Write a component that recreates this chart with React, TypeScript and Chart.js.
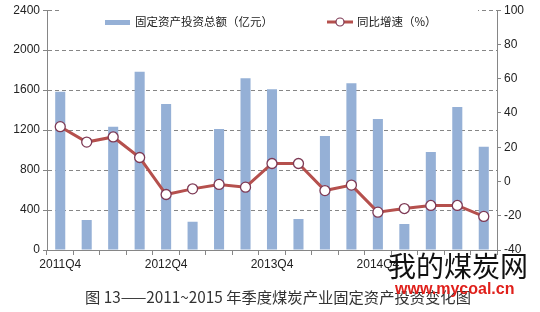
import React, { useEffect, useRef } from "react";
import { Chart, registerables } from "chart.js";

Chart.register(...registerables);

const categories = [
  "2011Q4", "2012Q1", "2012Q2", "2012Q3", "2012Q4", "2013Q1", "2013Q2", "2013Q3", "2013Q4",
  "2014Q1", "2014Q2", "2014Q3", "2014Q4", "2015Q1", "2015Q2", "2015Q3", "2015Q4",
];
const investment = [1583, 300, 1233, 1783, 1460, 283, 1210, 1720, 1610, 310, 1140, 1670, 1310, 260, 980, 1430, 1033];
const growth = [32, 23, 26, 14, -7.6, -4.3, -1.7, -3.3, 10.5, 10.5, -5.3, -2.1, -17.9, -15.8, -14, -14, -20.4];
const leftTicks = [0, 400, 800, 1200, 1600, 2000, 2400];
const rightTicks = [-40, -20, 0, 20, 40, 60, 80, 100];
const barLabel = "固定资产投资总额（亿元）";
const lineLabel = "同比增速（%）";
const caption = "图 13——2011~2015 年季度煤炭产业固定资产投资变化图";

const BAR_COLOR = "#95B0D6";
const LINE_COLOR = "#B5504D";
const POINT_BORDER = "#7E3A55";
const AXIS_COLOR = "#868686";
const TEXT_COLOR = "#222";

const legendPlugin = {
  id: "customLegend",
  afterDraw(chart: any) {
    const ctx = chart.ctx;
    ctx.save();
    ctx.fillStyle = "#fff";
    ctx.fillRect(60, 4, 418, 12);
    ctx.fillStyle = BAR_COLOR;
    ctx.fillRect(105, 20, 25, 5);
    ctx.font = '11.5px "Noto Sans CJK SC"';
    ctx.fillStyle = TEXT_COLOR;
    ctx.textBaseline = "middle";
    ctx.textAlign = "left";
    ctx.fillText(barLabel, 135, 22);
    ctx.strokeStyle = LINE_COLOR;
    ctx.lineWidth = 3;
    ctx.beginPath();
    ctx.moveTo(327, 22);
    ctx.lineTo(353, 22);
    ctx.stroke();
    ctx.beginPath();
    ctx.arc(340, 22, 4, 0, Math.PI * 2);
    ctx.fillStyle = "#fff";
    ctx.fill();
    ctx.lineWidth = 1.2;
    ctx.strokeStyle = POINT_BORDER;
    ctx.stroke();
    ctx.fillStyle = TEXT_COLOR;
    ctx.fillText(lineLabel, 357, 22);
    ctx.restore();
  },
};

export default function App() {
  const ref = useRef<HTMLCanvasElement>(null);
  useEffect(() => {
    if (!ref.current) return;
    Chart.defaults.font.family = '"Liberation Sans", Arial, sans-serif';
    const chart = new Chart(ref.current, {
      type: "bar",
      data: {
        labels: categories,
        datasets: [
          {
            type: "line",
            label: lineLabel,
            data: growth,
            yAxisID: "y1",
            borderColor: LINE_COLOR,
            borderWidth: 3,
            pointRadius: 5,
            pointBackgroundColor: "#fff",
            pointBorderColor: POINT_BORDER,
            pointBorderWidth: 1.3,
            order: 0,
          } as any,
          {
            type: "bar",
            label: barLabel,
            data: investment,
            yAxisID: "y",
            backgroundColor: BAR_COLOR,
            categoryPercentage: 1,
            barPercentage: 0.38,
            order: 1,
          },
        ],
      },
      options: {
        responsive: false,
        animation: false,
        layout: { padding: { top: 10, left: 0, right: 0, bottom: 0 } },
        plugins: { legend: { display: false }, tooltip: { enabled: false } },
        scales: {
          x: {
            offset: true,
            grid: { offset: true, drawOnChartArea: false, tickLength: 5, color: AXIS_COLOR },
            border: { color: AXIS_COLOR },
            ticks: {
              autoSkip: false,
              maxRotation: 0,
              padding: 2,
              color: TEXT_COLOR,
              font: { size: 12 },
              callback: (_v: any, i: number) => (i % 4 === 0 && i < 16 ? categories[i] : ""),
            },
            afterFit: (s: any) => { s.height = 62; },
          },
          y: {
            position: "left",
            min: leftTicks[0],
            max: leftTicks[leftTicks.length - 1],
            afterBuildTicks: (s: any) => { s.ticks = leftTicks.map((v) => ({ value: v })); },
            grid: { color: AXIS_COLOR, tickLength: 4 },
            border: { color: AXIS_COLOR, dash: [4, 3] },
            ticks: { color: TEXT_COLOR, font: { size: 12 }, padding: 3, callback: (v: any) => String(v) },
            afterFit: (s: any) => { s.width = 47; },
          },
          y1: {
            position: "right",
            min: rightTicks[0],
            max: rightTicks[rightTicks.length - 1],
            afterBuildTicks: (s: any) => { s.ticks = rightTicks.map((v) => ({ value: v })); },
            grid: { drawOnChartArea: false, color: AXIS_COLOR, tickLength: 4 },
            border: { color: AXIS_COLOR },
            ticks: { color: TEXT_COLOR, font: { size: 12 }, padding: 3, callback: (v: any) => String(v) },
            afterFit: (s: any) => { s.width = 43; },
          },
        },
      },
      plugins: [legendPlugin],
    });
    return () => chart.destroy();
  }, []);

  return (
    <div style={{ position: "fixed", left: 0, top: 0, width: 540, height: 312, background: "#fff", overflow: "hidden" }}>
      <canvas ref={ref} width={540} height={312} style={{ position: "absolute", left: 0, top: 0 }} />
      <div
        style={{
          position: "absolute", left: 85, top: 286, fontSize: 15.3, lineHeight: "20px",
          fontFamily: '"Noto Sans CJK SC", sans-serif', color: "#333", whiteSpace: "nowrap",
        }}
      >
        {caption}
      </div>
      <div
        style={{
          position: "absolute", left: 388, top: 247, fontSize: 28, lineHeight: "36px",
          fontFamily: '"Noto Sans CJK SC", sans-serif', color: "#111", whiteSpace: "nowrap",
        }}
      >
        我的煤炭网
      </div>
      <div
        style={{
          position: "absolute", left: 395, top: 279, fontSize: 16, lineHeight: "20px", fontWeight: "bold",
          fontFamily: '"Liberation Sans", sans-serif', color: "#E0201B", whiteSpace: "nowrap",
        }}
      >
        www.mycoal.cn
      </div>
    </div>
  );
}
